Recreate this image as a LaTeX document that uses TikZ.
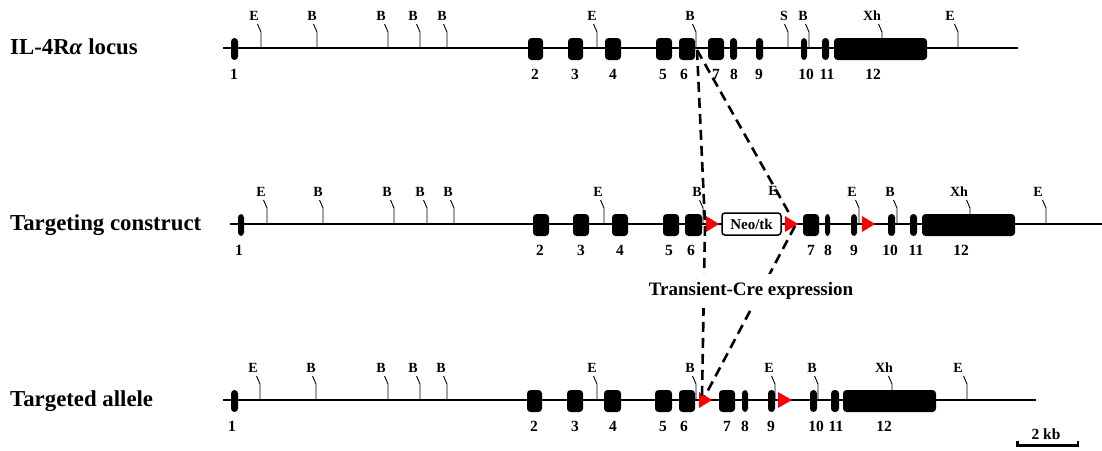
\documentclass[tikz,border=0pt]{standalone}
\usepackage{fontspec}
\setmainfont{Liberation Serif}
\begin{document}
\begin{tikzpicture}[x=1pt,y=-1pt,
  backbone/.style={line width=1.8pt},
  exon/.style={fill=black, rounded corners=3.5pt},
  sitetick/.style={line width=0.9pt},
  sitelabel/.style={font=\bfseries\fontsize{14}{16}\selectfont, inner sep=0pt},
  exonnum/.style={font=\bfseries\fontsize{15.5}{17}\selectfont, inner sep=0pt},
  rowtitle/.style={font=\bfseries\fontsize{22.8}{26}\selectfont, anchor=base west, inner sep=0pt},
  loxp/.style={fill=red},
  crossover/.style={line width=2.6pt, dash pattern=on 10pt off 6pt},
  cassette/.style={draw, line width=1.5pt, fill=white, rounded corners=3pt,
    minimum width=59pt, minimum height=22pt, inner sep=0pt,
    font=\bfseries\fontsize{15}{17}\selectfont},
  crelabel/.style={fill=white, font=\bfseries\fontsize{19}{22}\selectfont,
    inner xsep=2pt, inner ysep=8pt},
  scalebar/.style={line width=3pt}
]
\fill[white] (0,0) rectangle (1102,450);
\useasboundingbox (0,0) rectangle (1102,450);

% ---------- wild-type locus ----------
\def\ya{48}
\node[rowtitle] (title-a) at (10,\ya+6) {IL-4R\textit{α} locus};
\draw[backbone] (223,\ya) -- (1018,\ya);
\foreach \tx/\lx/\s [count=\i] in {261/254/E, 317/312/B, 388/381/B, 420/413/B,
    447/442/B, 597/592/E, 696/690/B, 788/784/S, 809/803/B, 882/872/Xh, 958/950/E} {
  \draw[sitetick] (\tx,\ya) -- (\tx,\ya-16) -- (\tx-3.5,\ya-24);
  \node[sitelabel] (a-site-\i) at (\lx,\ya-32) {\s};
}
\foreach \xa/\xb/\lx/\n in {231/238/234/1, 528/543/535/2, 568/583/575/3,
    605/621/613/4, 656/672/663/5, 679/695/684/6, 708/724/716/7, 730/737/734/8,
    756/763/759/9, 801/807/806/10, 822/829/827/11, 834/927/873/12} {
  \fill[exon] (\xa,\ya-10) rectangle (\xb,\ya+12);
  \node[exonnum] (a-exon-\n) at (\lx,\ya+26) {\n};
}

% ---------- targeting construct ----------
\def\yb{224}
\node[rowtitle] (title-b) at (10,\yb+6) {Targeting construct};
\draw[backbone] (230,\yb) -- (1102,\yb);
\foreach \tx/\lx/\s [count=\i] in {267/261/E, 323/318/B, 394/387/B, 427/420/B,
    454/448/B, 604/598/E, 703/697/B, 859/852/E, 897/890/B, 970/959/Xh, 1046/1038/E} {
  \draw[sitetick] (\tx,\yb) -- (\tx,\yb-16) -- (\tx-3.5,\yb-24);
  \node[sitelabel] (b-site-\i) at (\lx,\yb-32) {\s};
}
\node[sitelabel] (b-site-neo) at (773,\yb-33) {E};
\foreach \xa/\xb/\lx/\n in {238/244/239/1, 533/549/540/2, 573/589/581/3,
    612/628/620/4, 663/679/669/5, 685/702/691/6, 803/819/811/7, 825/830/828/8,
    851/857/854/9, 888/895/890/10, 910/917/916/11, 922/1015/961/12} {
  \fill[exon] (\xa,\yb-10) rectangle (\xb,\yb+12);
  \node[exonnum] (b-exon-\n) at (\lx,\yb+26) {\n};
}
\node[cassette] (neo) at (751.5,\yb) {Neo/tk};
\foreach \xa/\xb in {706/719, 785/798, 862/875}
  \fill[loxp] (\xa,\yb-8) -- (\xb,\yb) -- (\xa,\yb+8) -- cycle;

% ---------- targeted allele ----------
\def\yc{400}
\node[rowtitle] (title-c) at (10,\yc+6) {Targeted allele};
\draw[backbone] (223,\yc) -- (1036,\yc);
\foreach \tx/\lx/\s [count=\i] in {260/253/E, 316/311/B, 388/381/B, 420/413/B,
    447/441/B, 597/592/E, 696/690/B, 775/769/E, 818/812/B, 892/884/Xh, 967/958/E} {
  \draw[sitetick] (\tx,\yc) -- (\tx,\yc-16) -- (\tx-3.5,\yc-24);
  \node[sitelabel] (c-site-\i) at (\lx,\yc-32) {\s};
}
\foreach \xa/\xb/\lx/\n in {231/238/232/1, 527/542/534/2, 567/583/575/3,
    604/621/613/4, 655/672/663/5, 679/695/684/6, 719/735/727/7, 742/748/745/8,
    768/775/771/9, 810/817/816/10, 831/839/836/11, 843/936/884/12} {
  \fill[exon] (\xa,\yc-10) rectangle (\xb,\yc+12);
  \node[exonnum] (c-exon-\n) at (\lx,\yc+26) {\n};
}
\foreach \xa/\xb in {699/712, 778/792}
  \fill[loxp] (\xa,\yc-8) -- (\xb,\yc) -- (\xa,\yc+8) -- cycle;

% ---------- recombination lines ----------
\coordinate (cut) at (697,50);
\coordinate (loxL) at (705,\yb);
\coordinate (loxR) at (789,213);
\coordinate (loxRb) at (795,226);
\coordinate (allL) at (702,397);
\coordinate (allR) at (705,396);
\draw[crossover] (cut) -- (loxL) -- (allL);
\draw[crossover] (cut) -- (loxR);
\draw[crossover] (loxRb) -- (allR);
\node[crelabel] (cre) at (751,291) {Transient-Cre expression};

% ---------- scale bar ----------
\node[exonnum] (kb) at (1046,434) {2 kb};
\coordinate (barL) at (1016,445);
\coordinate (barR) at (1079,445);
\draw[scalebar] (barL) -- (barR);
\draw[line width=2.5pt] ([xshift=1.25pt]barL) -- ++(0,-4.5);
\draw[line width=2.5pt] ([xshift=-1.25pt]barR) -- ++(0,-4.5);
\end{tikzpicture}
\end{document}
